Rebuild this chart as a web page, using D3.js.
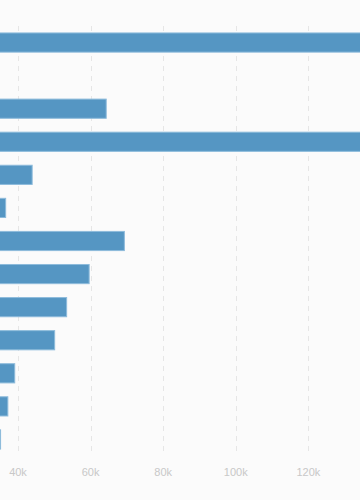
<!DOCTYPE html>
<html lang="en">
<head>
    <meta charset="UTF-8">
    <title>Bar chart</title>
    <script src="https://d3js.org/d3.v7.min.js"></script>
    <style>
        body {
            margin: 0;
            background-color: #fbfbfb;
            overflow: hidden;
        }
        .tick-label {
            font-family: "Liberation Sans", Arial, sans-serif;
            font-size: 11px;
            fill: #c8c8c8;
            text-anchor: middle;
        }
    </style>
</head>
<body>
    <div id="chart"></div>
    <script>
        const width = 360;
        const height = 500;

        // data (the category axis lies off-screen to the left)
        const categories = ["A", "B", "C", "D", "E", "F", "G", "H", "I", "J", "K", "L", "M"];
        const values = [150000, 30000, 64300, 146000, 43900, 36600, 69300, 59600, 53400, 50100, 39100, 37200, 35200];
        // only the ticks that fall inside the frame
        const tickValues = [40000, 60000, 80000, 100000, 120000];
        const tickLabels = ["40k", "60k", "80k", "100k", "120k"];

        const data = categories.map((c, i) => ({ name: c, value: values[i] }));

        const svg = d3.select("#chart")
            .append("svg")
            .attr("width", width)
            .attr("height", height);

        // the plot's zero sits left of the visible frame
        const x = d3.scaleLinear()
            .domain([0, 140000])
            .range([-127.2, 381]);

        const y = d3.scaleBand()
            .domain(categories)
            .range([26, 456])
            .paddingInner(0.42)
            .paddingOuter(0.21);

        // dashed vertical grid
        svg.append("g")
            .selectAll("line")
            .data(tickValues)
            .enter()
            .append("line")
            .attr("x1", d => Math.round(x(d)) + 0.5)
            .attr("x2", d => Math.round(x(d)) + 0.5)
            .attr("y1", 26)
            .attr("y2", 456)
            .attr("stroke", "#e6e6e6")
            .attr("stroke-dasharray", "5,5");

        // tick labels
        svg.append("g")
            .selectAll("text")
            .data(tickValues)
            .enter()
            .append("text")
            .attr("class", "tick-label")
            .attr("x", d => x(d))
            .attr("y", 476)
            .text((d, i) => tickLabels[i]);

        // bars
        svg.append("g")
            .selectAll("rect")
            .data(data)
            .enter()
            .append("rect")
            .attr("x", x(0))
            .attr("y", d => y(d.name))
            .attr("width", d => x(d.value) - x(0))
            .attr("height", y.bandwidth())
            .attr("fill", "#5596c3")
            .attr("stroke", "#8dbbdb")
            .attr("stroke-width", 1);
    </script>
</body>
</html>
